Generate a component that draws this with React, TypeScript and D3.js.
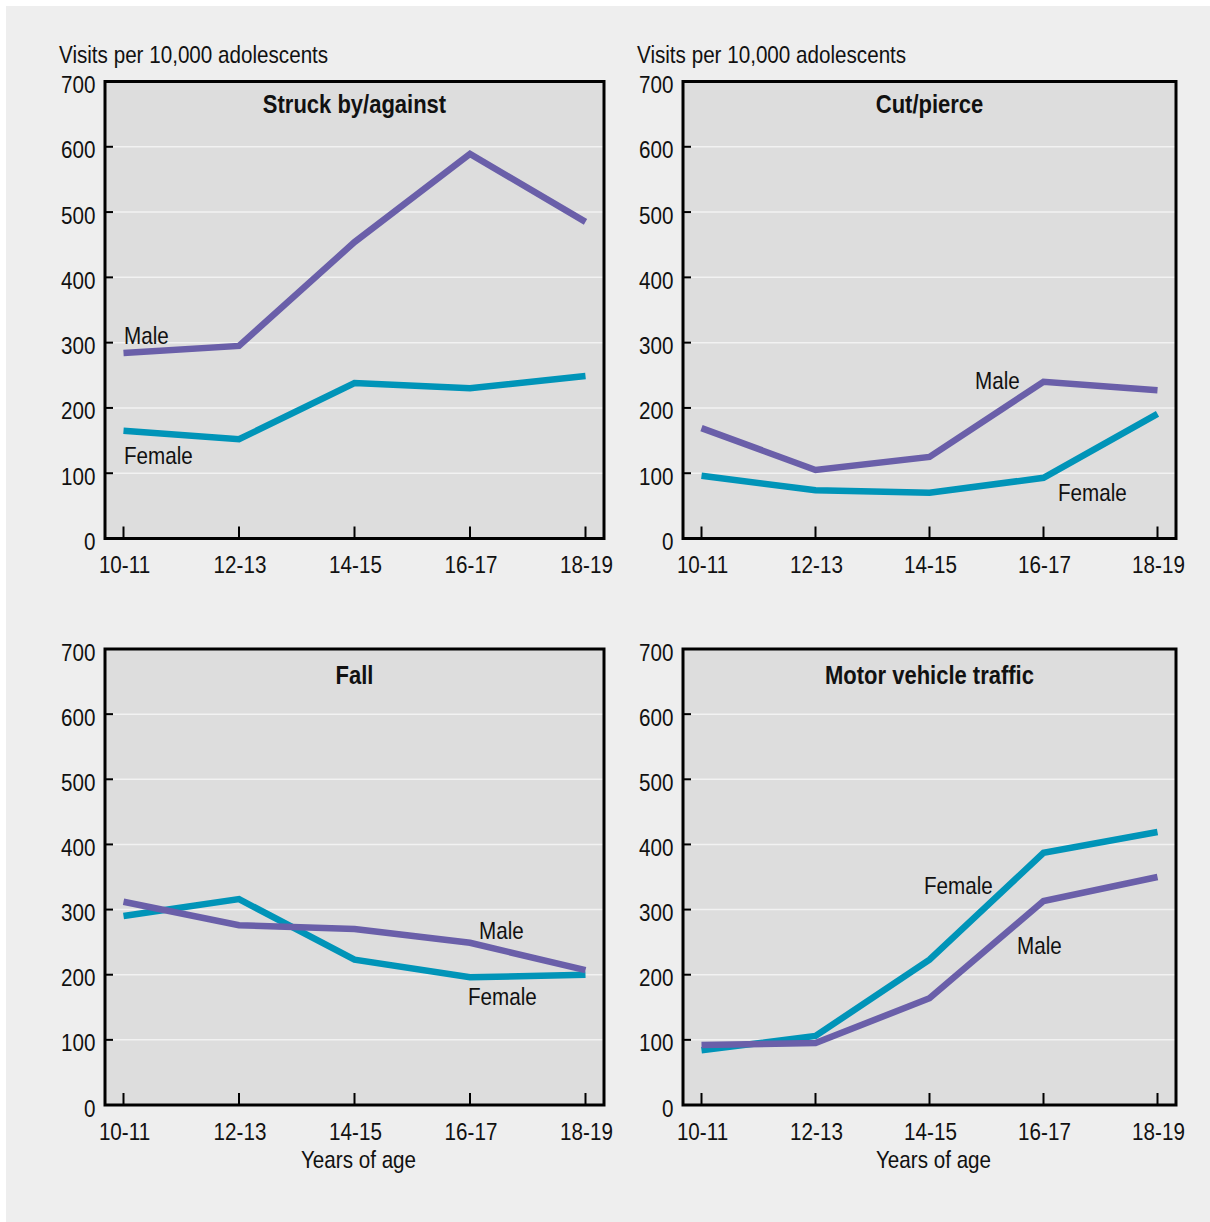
import React from "react";
import * as d3 from "d3";

const ageGroups = ["10-11", "12-13", "14-15", "16-17", "18-19"];
const yTicks = [0, 100, 200, 300, 400, 500, 600, 700];

const struckMale = [284, 295, 454, 589, 485];
const struckFemale = [165, 152, 238, 230, 249];
const cutMale = [169, 105, 125, 240, 227];
const cutFemale = [96, 74, 70, 93, 191];
const fallMale = [312, 276, 270, 249, 207];
const fallFemale = [290, 316, 223, 196, 200];
const motorMale = [92, 95, 164, 313, 350];
const motorFemale = [84, 106, 223, 387, 419];

const titles = ["Struck by/against", "Cut/pierce", "Fall", "Motor vehicle traffic"];
const yAxisTitle = "Visits per 10,000 adolescents";
const xAxisTitle = "Years of age";

const MALE = "#6a5fa9";
const FEMALE = "#0094b8";
const FONT = "'Liberation Sans', Arial, Helvetica, sans-serif";
const SX = 0.86;
const SXB = 0.88;

type Lbl = { text: string; x: number; y: number };
type PanelDef = {
  title: string;
  male: number[];
  female: number[];
  left: number;
  right: number;
  top: number;
  bottom: number;
  titleY: number;
  yTitle: boolean;
  xTitle: boolean;
  labels: Lbl[];
};

const panels: PanelDef[] = [
  { title: titles[0], male: struckMale, female: struckFemale, left: 105, right: 604, top: 81.5, bottom: 538.5, titleY: 112.5, yTitle: true, xTitle: false,
    labels: [{ text: "Male", x: 124, y: 343.5 }, { text: "Female", x: 124, y: 463.5 }] },
  { title: titles[1], male: cutMale, female: cutFemale, left: 683, right: 1176, top: 81.5, bottom: 538.5, titleY: 112.5, yTitle: true, xTitle: false,
    labels: [{ text: "Male", x: 975, y: 389 }, { text: "Female", x: 1058, y: 501 }] },
  { title: titles[2], male: fallMale, female: fallFemale, left: 105, right: 604, top: 649, bottom: 1105, titleY: 683.5, yTitle: false, xTitle: true,
    labels: [{ text: "Male", x: 479, y: 939 }, { text: "Female", x: 468, y: 1005 }] },
  { title: titles[3], male: motorMale, female: motorFemale, left: 683, right: 1176, top: 649, bottom: 1105, titleY: 683.5, yTitle: false, xTitle: true,
    labels: [{ text: "Female", x: 924, y: 894 }, { text: "Male", x: 1017, y: 954 }] },
];

function T({ x, y, children, anchor = "start", bold = false, size = 24 }: any) {
  return (
    <text
      transform={`translate(${x},${y}) scale(${bold ? SXB : SX},1)`}
      textAnchor={anchor}
      fontSize={size}
      fontWeight={bold ? "bold" : "normal"}
      fontFamily={FONT}
      fill="#111"
    >
      {children}
    </text>
  );
}

function Panel({ p }: { p: PanelDef }) {
  const x = d3.scalePoint<string>().domain(ageGroups).range([p.left + 18.5, p.right - 18.5]);
  const y = d3.scaleLinear().domain([0, 700]).range([p.bottom, p.top]);
  const line = d3
    .line<number>()
    .x((_, i) => x(ageGroups[i]) as number)
    .y((d) => y(d));
  const cx = (p.left + p.right) / 2;
  return (
    <g>
      <rect x={p.left} y={p.top} width={p.right - p.left} height={p.bottom - p.top} fill="#dddddd" />
      {yTicks.slice(1, -1).map((t) => (
        <line key={t} x1={p.left} x2={p.right} y1={y(t)} y2={y(t)} stroke="#f2f2f2" strokeWidth={1.5} />
      ))}
      {yTicks.map((t) => (
        <g key={"yt" + t}>
          <line x1={p.left} x2={p.left + 8} y1={y(t)} y2={y(t)} stroke="#000" strokeWidth={2} />
          <T x={p.left - 9.5} y={y(t) + 11.5} anchor="end">
            {t}
          </T>
        </g>
      ))}
      {ageGroups.map((a) => (
        <g key={a}>
          <line x1={x(a)} x2={x(a)} y1={p.bottom} y2={p.bottom - 12} stroke="#000" strokeWidth={2} />
          <T x={(x(a) as number) + 1} y={p.bottom + 34.5} anchor="middle">
            {a}
          </T>
        </g>
      ))}
      <path d={line(p.female) || ""} fill="none" stroke={FEMALE} strokeWidth={6.5} strokeLinejoin="miter" />
      <path d={line(p.male) || ""} fill="none" stroke={MALE} strokeWidth={6.5} strokeLinejoin="miter" />
      <rect x={p.left} y={p.top} width={p.right - p.left} height={p.bottom - p.top} fill="none" stroke="#000" strokeWidth={3} />
      <T x={cx} y={p.titleY} anchor="middle" bold size={25}>
        {p.title}
      </T>
      {p.labels.map((l) => (
        <T key={l.text} x={l.x} y={l.y}>
          {l.text}
        </T>
      ))}
      {p.yTitle && (
        <T x={p.left - 46} y={p.top - 18.5}>
          {yAxisTitle}
        </T>
      )}
      {p.xTitle && (
        <T x={cx + 4} y={p.bottom + 63} anchor="middle">
          {xAxisTitle}
        </T>
      )}
    </g>
  );
}

export default function App() {
  return (
    <svg width={1210} height={1222} style={{ position: "absolute", left: 0, top: 0 }}>
      <rect x={0} y={0} width={1210} height={1222} fill="#ffffff" />
      <rect x={6} y={6} width={1204} height={1216} fill="#eeeeee" />
      {panels.map((p) => (
        <Panel key={p.title} p={p} />
      ))}
    </svg>
  );
}
